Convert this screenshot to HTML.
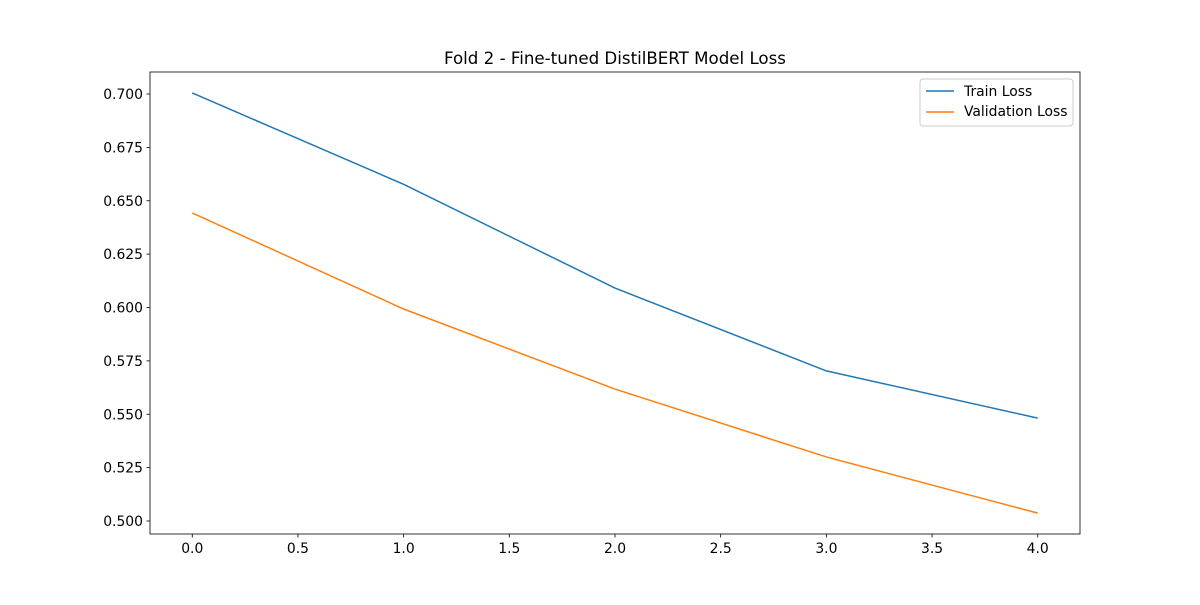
<!DOCTYPE html>
<html><head><meta charset="utf-8"><style>
body{margin:0;background:#fff;}
svg text{font-family:"DejaVu Sans","Liberation Sans",sans-serif;}
</style></head><body>
<svg id="chart" width="1200" height="600" xmlns="http://www.w3.org/2000/svg">
<rect width="1200" height="600" fill="#fff"/>
<text x="615" y="64" font-size="16.67" text-anchor="middle" fill="#000">Fold 2 - Fine-tuned DistilBERT Model Loss</text>
<g id="ticks"></g>
<g id="lines"></g>
<rect x="150" y="72" width="930" height="462" fill="none" stroke="#000" stroke-width="0.8"/>
<g>
<rect x="920" y="79" width="153" height="47" rx="3" fill="#fff" fill-opacity="0.8" stroke="#ccc"/>
<line x1="926" y1="91" x2="954" y2="91" stroke="#1f77b4" stroke-width="1.5"/>
<text x="964" y="96" font-size="13.9" fill="#000">Train Loss</text>
<line x1="926" y1="112" x2="954" y2="112" stroke="#ff7f0e" stroke-width="1.5"/>
<text x="964" y="116" font-size="13.9" fill="#000">Validation Loss</text>
</g>
</svg>
<script>
const epochs=[0,1,2,3,4];
const trainLoss=[0.7005,0.6577,0.6091,0.5703,0.5482];
const valLoss=[0.6443,0.5993,0.5618,0.5300,0.5037];
const xTicks=[0,0.5,1,1.5,2,2.5,3,3.5,4];
const yTicks=[0.500,0.525,0.550,0.575,0.600,0.625,0.650,0.675,0.700];
const X=v=>150+(v+0.2)/4.4*930;
const Y=v=>534-(v-0.49391)/(0.71031-0.49391)*462;
const ns='http://www.w3.org/2000/svg';
const tg=document.getElementById('ticks'),lg=document.getElementById('lines');
function mk(t,a,p){const e=document.createElementNS(ns,t);for(const k in a)e.setAttribute(k,a[k]);p.appendChild(e);return e;}
xTicks.forEach(v=>{const x=X(v);
const l=mk('line',{x1:x,x2:x,y1:534,y2:537.5,stroke:'#000','stroke-width':0.8},tg);


const t=mk('text',{x:x,y:553,'font-size':13.9,'text-anchor':'middle'},tg);t.textContent=v.toFixed(1);

});
yTicks.forEach(v=>{const y=Y(v);
const l=mk('line',{x1:146.5,x2:150,y1:y,y2:y,stroke:'#000','stroke-width':0.8},tg);


const t=mk('text',{x:143,y:y+5,'font-size':13.9,'text-anchor':'end'},tg);t.textContent=v.toFixed(3);

});
function line(d,c,n){const p=mk('polyline',{points:d.map((v,i)=>X(epochs[i])+','+Y(v)).join(' '),fill:'none',stroke:c,'stroke-width':1.5},lg);

}
line(trainLoss,'#1f77b4','train-loss-line');
line(valLoss,'#ff7f0e','validation-loss-line');
</script>
</body></html>
